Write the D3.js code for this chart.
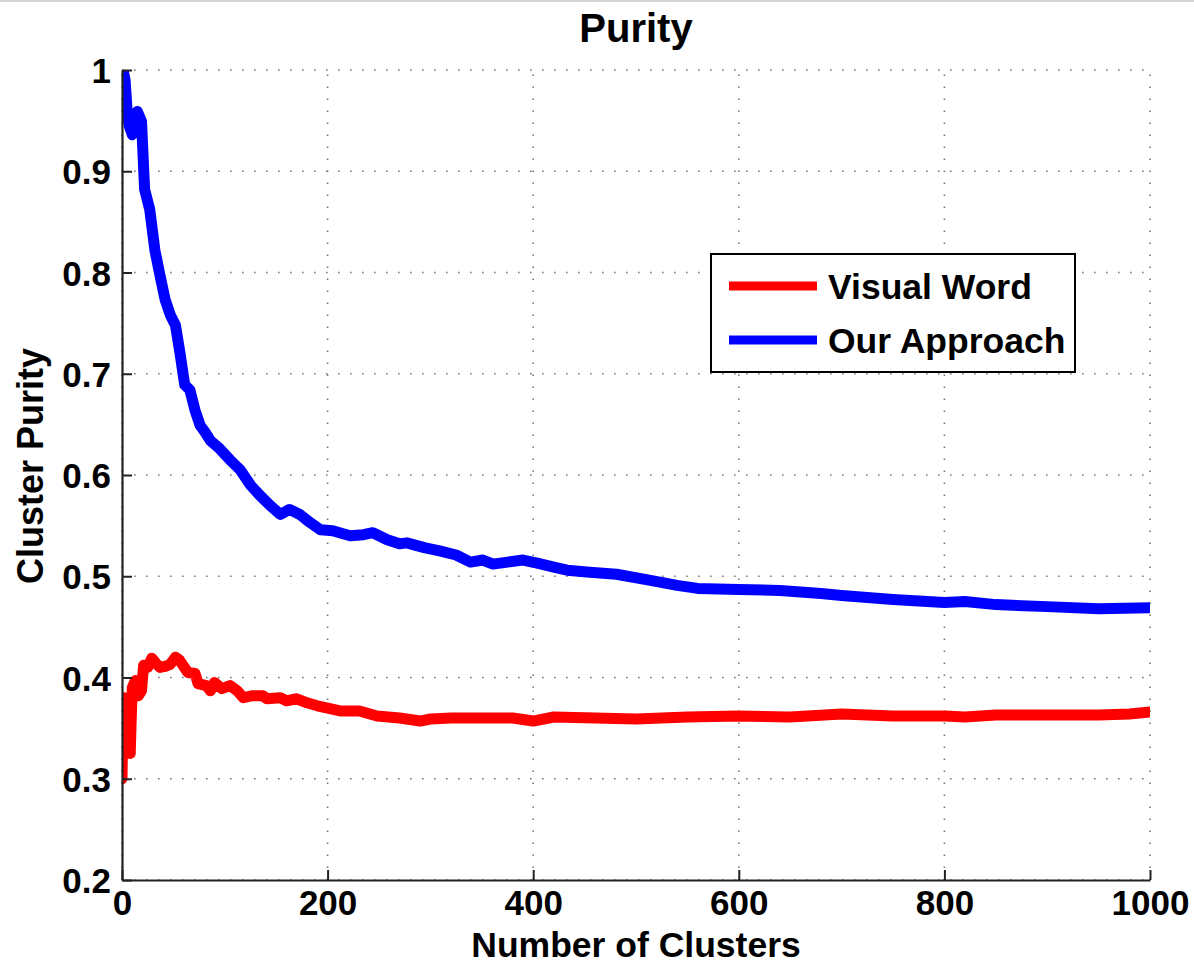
<!DOCTYPE html>
<html>
<head>
<meta charset="utf-8">
<script src="https://cdn.jsdelivr.net/npm/d3@7/dist/d3.min.js"></script>
<style>
  html, body { margin: 0; padding: 0; background: #fff; }
  svg { display: block; }
  text { font-family: "Liberation Sans", Arial, Helvetica, sans-serif; font-weight: bold; fill: #000; }
</style>
</head>
<body>
<svg id="chart" width="1194" height="967"></svg>
<script>
// ---- data ----
const title = "Purity";
const xLabel = "Number of Clusters";
const yLabel = "Cluster Purity";
const seriesNames = ["Visual Word", "Our Approach"];
const seriesColors = ["#ff0000", "#0000ff"];
const xTicks = [0, 200, 400, 600, 800, 1000];
const yTicks = [0.2, 0.3, 0.4, 0.5, 0.6, 0.7, 0.8, 0.9, 1.0];

// Visual Word: [clusters, purity]
const visualWord = [
  [0, 0.300], [1, 0.370], [2, 0.380], [4, 0.378], [6, 0.380], [7, 0.330], [8, 0.325],
  [9, 0.360], [10, 0.390], [13, 0.397], [16, 0.382], [19, 0.387], [21, 0.412],
  [25, 0.410], [29, 0.419], [33, 0.414], [37, 0.410], [42, 0.411], [47, 0.413],
  [52, 0.420], [56, 0.417], [60, 0.411], [64, 0.405], [71, 0.404], [74, 0.394],
  [78, 0.393], [82, 0.392], [86, 0.387], [90, 0.395], [97, 0.389], [105, 0.392],
  [112, 0.387], [118, 0.380], [127, 0.382], [137, 0.382], [141, 0.379], [154, 0.380],
  [160, 0.377], [170, 0.379], [180, 0.375], [190, 0.372], [199, 0.370], [212, 0.367],
  [231, 0.367], [248, 0.362], [270, 0.360], [290, 0.357], [300, 0.359], [320, 0.360],
  [350, 0.360], [380, 0.360], [400, 0.357], [420, 0.361], [460, 0.360], [500, 0.359],
  [550, 0.361], [600, 0.362], [650, 0.361], [700, 0.364], [750, 0.362], [800, 0.362],
  [820, 0.361], [850, 0.363], [900, 0.363], [950, 0.363], [980, 0.364], [1000, 0.366]
];

// Our Approach: [clusters, purity]
const ourApproach = [
  [1, 1.000], [3, 0.990], [5, 0.960], [7, 0.945], [10, 0.936], [13, 0.955], [15, 0.959],
  [19, 0.949], [22, 0.882], [27, 0.862], [32, 0.822], [37, 0.797], [42, 0.773],
  [47, 0.758], [52, 0.748], [56, 0.723], [61, 0.689], [66, 0.684], [71, 0.664],
  [76, 0.649], [81, 0.642], [86, 0.634], [95, 0.626], [105, 0.615], [115, 0.605],
  [125, 0.590], [134, 0.580], [144, 0.570], [154, 0.561], [163, 0.566], [173, 0.561],
  [183, 0.553], [193, 0.546], [205, 0.545], [215, 0.542], [222, 0.540], [235, 0.541],
  [244, 0.543], [258, 0.536], [270, 0.532], [277, 0.533], [295, 0.528], [309, 0.525],
  [325, 0.521], [339, 0.514], [351, 0.516], [361, 0.512], [375, 0.514], [390, 0.516],
  [404, 0.513], [420, 0.509], [433, 0.506], [455, 0.504], [481, 0.502], [514, 0.496],
  [540, 0.491], [560, 0.488], [600, 0.487], [640, 0.486], [680, 0.483], [700, 0.481],
  [750, 0.477], [800, 0.474], [820, 0.475], [850, 0.472], [900, 0.470], [950, 0.468],
  [1000, 0.469]
];

// ---- layout ----
const svg = d3.select("#chart");
const W = 1194, H = 967;
const plot = { left: 122, right: 1150, top: 70, bottom: 880 };

const x = d3.scaleLinear().domain([0, 1000]).range([plot.left, plot.right]);
const y = d3.scaleLinear().domain([0.2, 1.0]).range([plot.bottom, plot.top]);

// top border strip
svg.append("rect").attr("x", 0).attr("y", 0).attr("width", W).attr("height", 2).attr("fill", "#d4d4d4");

// clip
svg.append("defs").append("clipPath").attr("id", "clip")
  .append("rect").attr("x", plot.left).attr("y", plot.top)
  .attr("width", plot.right - plot.left).attr("height", plot.bottom - plot.top);

// grid
const grid = svg.append("g").attr("stroke", "#777").attr("stroke-width", 1.6).attr("stroke-dasharray", "1.6,10.4");
grid.selectAll(".gx").data(xTicks).join("line")
  .attr("x1", d => x(d)).attr("x2", d => x(d)).attr("y1", plot.bottom).attr("y2", plot.top);
grid.selectAll(".gy").data(yTicks).join("line")
  .attr("y1", d => y(d)).attr("y2", d => y(d)).attr("x1", plot.left).attr("x2", plot.right);

// series
const line = d3.line().x(d => x(d[0])).y(d => y(d[1])).curve(d3.curveLinear);
const gLines = svg.append("g").attr("clip-path", "url(#clip)");
[visualWord, ourApproach].forEach((data, i) => {
  gLines.append("path").datum(data)
    .attr("d", line)
    .attr("fill", "none")
    .attr("stroke", seriesColors[i])
    .attr("stroke-width", 11)
    .attr("stroke-linejoin", "round")
    .attr("stroke-linecap", "round");
});

// axes
const xAxis = d3.axisBottom(x).tickValues(xTicks).tickSizeInner(-10).tickSizeOuter(0).tickPadding(22).tickFormat(d3.format("d"));
const yAxis = d3.axisLeft(y).tickValues(yTicks).tickSizeInner(-10).tickSizeOuter(0).tickPadding(22)
  .tickFormat(d => d === 1 ? "1" : d3.format(".1f")(d));

const gx = svg.append("g").attr("transform", `translate(0,${plot.bottom})`).call(xAxis);
const gy = svg.append("g").attr("transform", `translate(${plot.left},0)`).call(yAxis);
[gx, gy].forEach(g => {
  g.select(".domain").attr("stroke", "#222").attr("stroke-width", 2.2);
  g.selectAll(".tick line").attr("stroke", "#222").attr("stroke-width", 2);
  g.selectAll(".tick text").style("font-size", "35px").style("font-family", "'Liberation Sans', Arial, sans-serif").style("font-weight", "bold").attr("fill", "#000");
});
gx.selectAll(".tick text").attr("dy", "0.71em").attr("y", 10);
gy.selectAll(".tick text").attr("x", -11).attr("dy", "0.36em");

// title & labels
svg.append("text").attr("x", 636).attr("y", 42)
  .attr("text-anchor", "middle").style("font-size", "40px").text(title);
svg.append("text").attr("x", 636).attr("y", 957)
  .attr("text-anchor", "middle").style("font-size", "35.5px").text(xLabel);
svg.append("text").attr("transform", `translate(43,466) rotate(-90)`)
  .attr("text-anchor", "middle").style("font-size", "36px").text(yLabel);

// legend
const lg = svg.append("g");
lg.append("rect").attr("x", 711).attr("y", 254).attr("width", 364).attr("height", 118)
  .attr("fill", "#fff").attr("stroke", "#000").attr("stroke-width", 2);
const legendRows = [286, 340];
seriesNames.forEach((name, i) => {
  lg.append("line").attr("x1", 729).attr("x2", 817).attr("y1", legendRows[i]).attr("y2", legendRows[i])
    .attr("stroke", seriesColors[i]).attr("stroke-width", 9);
  lg.append("text").attr("x", 828).attr("y", legendRows[i] + 13)
    .style("font-size", "35.5px").text(name);
});
</script>
</body>
</html>
